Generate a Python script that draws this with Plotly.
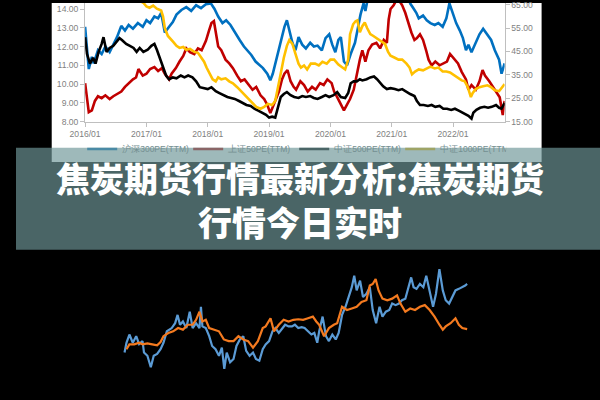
import plotly.graph_objects as go

# ---------------- top chart: PE(TTM) of four indices (decimal year, value) ----------------
year_ticks = [2016, 2017, 2018, 2019, 2020, 2021, 2022]
year_labels = ["2016/01", "2017/01", "2018/01", "2019/01", "2020/01", "2021/01", "2022/01"]
left_ticks = [8, 9, 10, 11, 12, 13, 14]
right_ticks = [15, 25, 35, 45, 55, 65]
series_names = ["沪深300PE(TTM)", "上证50PE(TTM)", "中证500PE(TTM)", "中证1000PE(TTM)"]

hs300 = [(2016.00,13.05),(2016.03,12.0),(2016.06,10.8),(2016.11,11.45),(2016.14,11.1),(2016.21,11.8),
         (2016.27,11.6),(2016.33,12.0),(2016.40,11.7),(2016.46,12.1),(2016.52,12.5),(2016.59,13.1),
         (2016.65,12.85),(2016.71,13.15),(2016.78,12.95),(2016.86,13.25),(2016.94,13.05),(2017.00,13.4),
         (2017.06,13.25),(2017.13,13.6),(2017.19,13.5),(2017.24,13.8),(2017.30,12.75),(2017.37,13.05),
         (2017.43,13.3),(2017.49,13.7),(2017.57,13.95),(2017.65,14.1),(2017.73,13.9),(2017.81,14.2),
         (2017.89,14.05),(2017.97,14.25),(2018.05,14.3),(2018.11,14.0),(2018.17,13.6),(2018.24,13.25),
         (2018.30,13.4),(2018.37,13.15),(2018.44,12.75),(2018.52,12.35),(2018.59,12.0),(2018.65,11.8),
         (2018.71,11.55),(2018.78,11.2),(2018.84,11.0),(2018.90,10.85),(2018.97,10.55),(2019.02,10.2),
         (2019.06,10.55),(2019.11,11.2),(2019.16,12.0),(2019.21,12.5),(2019.25,13.05),(2019.29,13.4),
         (2019.33,12.85),(2019.38,12.2),(2019.43,11.8),(2019.48,12.5),(2019.54,12.1),(2019.60,11.9),
         (2019.67,12.2),(2019.73,12.0),(2019.79,12.05),(2019.86,11.8),(2019.92,12.45),(2019.98,12.65),
         (2020.03,12.1),(2020.08,11.7),(2020.13,12.35),(2020.17,12.5),(2020.22,11.2),(2020.27,11.0),
         (2020.33,11.6),(2020.40,12.2),(2020.44,12.85),(2020.49,13.7),(2020.54,14.3),(2020.57,13.9),
         (2020.60,14.4),(2020.65,15.2),(2020.75,15.6),(2020.90,16.2),(2021.05,16.8),(2021.12,17.2),
         (2021.20,16.0),(2021.30,14.3),(2021.35,14.05),(2021.40,13.8),(2021.44,13.5),(2021.51,13.65),
         (2021.57,13.4),(2021.63,13.25),(2021.70,13.15),(2021.76,13.25),(2021.83,13.05),(2021.89,13.5),
         (2021.94,14.3),(2021.98,13.9),(2022.05,13.25),(2022.11,12.85),(2022.16,12.45),(2022.21,11.8),
         (2022.25,12.1),(2022.30,11.7),(2022.37,12.2),(2022.43,12.65),(2022.49,12.95),(2022.56,12.6),
         (2022.62,12.35),(2022.68,11.8),(2022.75,11.3),(2022.79,10.55),(2022.84,11.1)]

sz50 = [(2016.00,10.05),(2016.03,9.1),(2016.06,8.5),(2016.11,8.6),(2016.16,9.1),(2016.21,9.35),
        (2016.27,9.25),(2016.33,9.4),(2016.40,9.2),(2016.46,9.35),(2016.52,9.45),(2016.59,9.6),
        (2016.65,9.85),(2016.71,10.05),(2016.78,10.25),(2016.83,10.35),(2016.87,10.8),(2016.94,10.45),
        (2017.00,10.55),(2017.06,10.8),(2017.13,10.9),(2017.19,10.7),(2017.25,10.85),(2017.30,10.55),
        (2017.37,10.25),(2017.41,10.55),(2017.48,10.85),(2017.54,11.2),(2017.60,11.5),(2017.65,11.9),
        (2017.71,11.7),(2017.78,11.6),(2017.84,11.9),(2017.90,11.8),(2017.97,12.3),(2018.02,12.85),
        (2018.06,13.25),(2018.10,13.35),(2018.13,12.65),(2018.17,12.0),(2018.22,11.8),(2018.29,11.3),
        (2018.35,11.1),(2018.41,10.85),(2018.48,10.45),(2018.54,10.15),(2018.60,10.25),(2018.67,9.95),
        (2018.73,9.7),(2018.79,9.85),(2018.86,9.4),(2018.92,9.2),(2018.97,8.9),(2019.02,8.45),
        (2019.06,8.8),(2019.11,9.2),(2019.16,9.6),(2019.21,10.25),(2019.25,10.55),(2019.30,10.75),
        (2019.35,10.15),(2019.40,9.85),(2019.44,9.7),(2019.51,10.15),(2019.57,9.95),(2019.63,9.6),
        (2019.70,9.85),(2019.76,9.7),(2019.83,10.05),(2019.89,9.95),(2019.95,10.25),(2020.02,10.05),
        (2020.06,9.6),(2020.11,9.3),(2020.16,9.0),(2020.22,8.6),(2020.27,8.9),(2020.32,9.2),
        (2020.38,9.7),(2020.43,10.55),(2020.48,11.3),(2020.52,11.8),(2020.57,11.2),(2020.62,11.8),
        (2020.68,12.1),(2020.75,12.2),(2020.81,11.9),(2020.87,12.35),(2020.92,12.2),(2020.95,13.45),
        (2020.98,14.0),(2021.03,14.2),(2021.08,14.5),(2021.13,14.4),(2021.17,14.2),(2021.22,13.8),
        (2021.27,13.25),(2021.32,12.75),(2021.37,12.35),(2021.41,12.45),(2021.46,12.65),(2021.51,12.35),
        (2021.56,11.8),(2021.60,11.3),(2021.65,11.0),(2021.71,11.2),(2021.78,11.0),(2021.84,11.1),
        (2021.90,11.2),(2021.95,11.6),(2022.02,11.3),(2022.08,11.1),(2022.14,10.65),(2022.21,10.25),
        (2022.25,9.7),(2022.30,9.95),(2022.37,9.7),(2022.43,10.15),(2022.48,10.75),(2022.52,10.45),
        (2022.59,10.15),(2022.65,9.85),(2022.71,9.5),(2022.76,9.3),(2022.81,8.35),(2022.84,9.1)]

zz500 = [(2016.00,51.1),(2016.03,44.0),(2016.08,39.8),(2016.13,42.3),(2016.17,39.8),(2016.22,44.8),
         (2016.27,48.2),(2016.30,51.1),(2016.35,44.8),(2016.40,46.5),(2016.46,47.4),(2016.51,49.0),
         (2016.56,50.7),(2016.60,49.9),(2016.67,48.2),(2016.73,47.4),(2016.79,46.5),(2016.84,44.8),
         (2016.89,46.5),(2016.95,44.8),(2017.02,45.7),(2017.08,47.4),(2017.13,48.2),(2017.17,45.7),
         (2017.22,42.3),(2017.27,39.0),(2017.32,34.7),(2017.37,33.1),(2017.43,33.9),(2017.49,33.5),
         (2017.56,34.7),(2017.62,33.9),(2017.68,34.7),(2017.75,33.9),(2017.81,32.2),(2017.87,29.7),
         (2017.94,29.3),(2018.00,28.9),(2018.06,29.7),(2018.13,28.0),(2018.19,27.2),(2018.25,26.3),
         (2018.32,25.5),(2018.38,25.1),(2018.44,24.7),(2018.51,23.8),(2018.57,23.0),(2018.63,22.1),
         (2018.70,21.7),(2018.76,20.5),(2018.83,19.6),(2018.89,18.8),(2018.95,17.9),(2019.00,16.7),
         (2019.05,17.1),(2019.10,16.7),(2019.14,20.5),(2019.19,25.5),(2019.24,26.8),(2019.29,27.6),
         (2019.35,26.3),(2019.41,25.5),(2019.48,25.1),(2019.54,25.9),(2019.60,25.5),(2019.67,25.9),
         (2019.73,25.1),(2019.79,24.7),(2019.86,25.5),(2019.92,26.3),(2019.98,25.5),(2020.05,26.3),
         (2020.11,27.6),(2020.17,25.5),(2020.24,25.1),(2020.29,27.2),(2020.33,31.4),(2020.38,32.2),
         (2020.43,32.2),(2020.48,33.1),(2020.52,32.6),(2020.59,33.1),(2020.65,33.9),(2020.71,34.3),
         (2020.76,33.1),(2020.81,31.4),(2020.86,30.1),(2020.92,28.9),(2020.98,29.3),(2021.05,28.9),
         (2021.11,28.4),(2021.17,28.9),(2021.24,27.6),(2021.30,26.8),(2021.37,25.9),(2021.41,23.8),
         (2021.46,22.1),(2021.52,22.1),(2021.59,21.7),(2021.65,22.1),(2021.71,21.3),(2021.78,21.7),
         (2021.84,20.5),(2021.90,20.5),(2021.97,20.0),(2022.03,20.5),(2022.10,19.6),(2022.16,18.8),
         (2022.21,17.9),(2022.25,17.5),(2022.30,16.3),(2022.33,18.8),(2022.38,20.0),(2022.44,20.9),
         (2022.51,21.3),(2022.57,20.9),(2022.63,21.3),(2022.70,22.1),(2022.75,20.9),(2022.79,20.5),
         (2022.84,23.0)]

zz1000 = [(2016.78,70.0),(2016.90,66.5),(2016.95,65.8),(2017.00,64.2),(2017.05,63.7),(2017.11,64.6),
          (2017.17,63.3),(2017.24,62.5),(2017.27,60.0),(2017.30,54.9),(2017.35,51.6),(2017.40,49.9),
          (2017.44,49.0),(2017.49,47.4),(2017.54,46.5),(2017.60,46.9),(2017.65,45.7),(2017.71,46.1),
          (2017.78,44.8),(2017.84,44.4),(2017.89,42.7),(2017.94,40.6),(2017.98,38.1),(2018.03,35.6),
          (2018.08,33.1),(2018.13,32.2),(2018.17,33.9),(2018.22,33.1),(2018.29,33.5),(2018.35,32.2),
          (2018.41,31.4),(2018.48,29.7),(2018.54,28.0),(2018.60,26.3),(2018.67,24.7),(2018.73,23.0),
          (2018.79,21.3),(2018.86,20.5),(2018.92,21.3),(2018.98,22.6),(2019.05,22.1),(2019.10,23.8),
          (2019.14,29.7),(2019.19,35.6),(2019.24,42.3),(2019.29,47.4),(2019.33,49.9),(2019.38,48.2),
          (2019.43,44.0),(2019.48,39.8),(2019.52,38.1),(2019.57,39.0),(2019.62,37.3),(2019.68,39.8),
          (2019.75,39.8),(2019.81,39.0),(2019.87,40.6),(2019.94,39.8),(2020.00,41.5),(2020.06,41.5),
          (2020.13,39.4),(2020.19,38.1),(2020.24,37.3),(2020.29,41.5),(2020.32,52.4),(2020.37,56.6),
          (2020.41,57.9),(2020.44,58.3),(2020.48,53.2),(2020.52,55.8),(2020.56,57.4),(2020.60,54.9),
          (2020.65,52.4),(2020.70,51.6),(2020.75,50.7),(2020.79,49.9),(2020.84,49.0),(2020.89,48.2),
          (2020.94,44.8),(2020.98,43.2),(2021.05,42.3),(2021.11,41.5),(2021.17,41.5),(2021.24,39.8),
          (2021.29,38.1),(2021.33,35.2),(2021.38,36.4),(2021.44,37.3),(2021.51,36.9),(2021.57,37.7),
          (2021.63,38.5),(2021.70,37.7),(2021.76,38.1),(2021.83,36.4),(2021.89,36.4),(2021.95,36.0),
          (2022.02,34.7),(2022.08,33.5),(2022.14,32.6),(2022.19,32.2),(2022.24,29.7),(2022.29,25.5),
          (2022.32,27.2),(2022.37,28.9),(2022.43,29.7),(2022.49,30.1),(2022.56,30.5),(2022.62,29.7),
          (2022.68,28.4),(2022.75,28.0),(2022.79,29.3),(2022.84,31.0)]

# ---------------- bottom chart: two price series (decimal year, price) ----------------
coke_blue = [(2015.01,1033),(2015.05,1133),(2015.11,1217),(2015.18,1133),(2015.25,1200),(2015.31,1120),
             (2015.38,1150),(2015.41,1033),(2015.48,1000),(2015.55,883),(2015.61,1000),(2015.68,1020),
             (2015.75,1067),(2015.81,1133),(2015.88,1250),(2015.98,1283),(2016.05,1333),(2016.10,1417),
             (2016.15,1317),(2016.21,1350),(2016.28,1283),(2016.35,1450),(2016.41,1283),(2016.48,1333),
             (2016.55,1283),(2016.58,1500),(2016.61,1300),(2016.68,1283),(2016.75,1200),(2016.81,1100),
             (2016.88,1067),(2016.95,1000),(2017.01,1083),(2017.06,867),(2017.11,1033),(2017.18,933),
             (2017.25,967),(2017.31,1100),(2017.38,1167),(2017.45,1200),(2017.51,1050),(2017.58,1000),
             (2017.65,1033),(2017.71,967),(2017.78,950),(2017.85,1067),(2017.91,1117),(2017.98,1150),
             (2018.05,1250),(2018.11,1283),(2018.18,1233),(2018.25,1283),(2018.31,1317),(2018.38,1300),
             (2018.45,1300),(2018.51,1317),(2018.58,1283),(2018.65,1293),(2018.71,1283),(2018.78,1250),
             (2018.85,1217),(2018.91,1233),(2018.97,1133),(2019.01,1250),(2019.08,1400),(2019.15,1200),
             (2019.21,1150),(2019.28,1217),(2019.35,1167),(2019.41,1233),(2019.48,1417),(2019.55,1500),
             (2019.61,1600),(2019.68,1700),(2019.73,1817),(2019.78,1667),(2019.85,1767),(2019.91,1600),
             (2019.98,1633),(2020.05,1700),(2020.11,1467),(2020.18,1333),(2020.25,1500),(2020.31,1400),
             (2020.38,1450),(2020.45,1467),(2020.51,1533),(2020.58,1517),(2020.65,1533),(2020.71,1567),
             (2020.78,1583),(2020.85,1700),(2020.90,1800),(2020.95,1700),(2021.01,1683),(2021.08,1733),
             (2021.15,1700),(2021.21,1817),(2021.28,1667),(2021.35,1500),(2021.41,1633),(2021.48,1883),
             (2021.55,1667),(2021.61,1567),(2021.68,1533),(2021.75,1600),(2021.81,1667),(2021.88,1683),
             (2021.95,1700),(2022.01,1717),(2022.05,1733)]

coke_orange = [(2015.05,1067),(2015.11,1117),(2015.21,1117),(2015.31,1133),(2015.38,1117),(2015.48,1127),
               (2015.58,1117),(2015.68,1107),(2015.75,1140),(2015.81,1200),(2015.91,1233),(2016.01,1250),
               (2016.11,1283),(2016.21,1267),(2016.31,1317),(2016.41,1317),(2016.48,1367),(2016.55,1450),
               (2016.61,1350),(2016.68,1367),(2016.75,1283),(2016.85,1267),(2016.95,1250),(2017.05,1167),
               (2017.15,1150),(2017.25,1150),(2017.35,1200),(2017.45,1167),(2017.55,1150),(2017.65,1083),
               (2017.75,1150),(2017.85,1283),(2017.91,1300),(2018.01,1383),(2018.08,1250),(2018.18,1317),
               (2018.28,1367),(2018.38,1350),(2018.48,1367),(2018.58,1373),(2018.68,1367),(2018.78,1383),
               (2018.88,1400),(2018.95,1350),(2019.01,1317),(2019.11,1200),(2019.21,1283),(2019.31,1317),
               (2019.38,1333),(2019.48,1500),(2019.58,1467),(2019.68,1483),(2019.78,1500),(2019.88,1550),
               (2019.98,1567),(2020.05,1717),(2020.11,1733),(2020.17,1783),(2020.23,1667),(2020.31,1583),
               (2020.41,1567),(2020.51,1583),(2020.61,1617),(2020.68,1533),(2020.78,1450),(2020.88,1483),
               (2020.98,1467),(2021.08,1500),(2021.18,1517),(2021.28,1467),(2021.38,1400),(2021.48,1317),
               (2021.55,1267),(2021.61,1300),(2021.71,1333),(2021.81,1383),(2021.88,1317),(2021.95,1283),
               (2022.05,1273)]

title_line1 = "焦炭期货行情最新分析:焦炭期货"
title_line2 = "行情今日实时"


def unzip(pairs):
    return [p[0] for p in pairs], [p[1] for p in pairs]


fig = go.Figure()

top_colors = ["#0070C0", "#C00000", "#000000", "#FFC000"]
top_series = [hs300, sz50, zz500, zz1000]
top_axes = ["y", "y", "y2", "y2"]
for name, data, color, ax in zip(series_names, top_series, top_colors, top_axes):
    xs, ys = unzip(data)
    fig.add_trace(go.Scatter(x=xs, y=ys, mode="lines", name=name, xaxis="x", yaxis=ax,
                             line=dict(color=color, width=2.6), showlegend=False, hoverinfo="skip"))

# legend entries (seen through the translucent banner)
legend_colors = ["#4a8aa5", "#8a6566", "#4a6566", "#9ea466"]
for name, color in zip(series_names, legend_colors):
    fig.add_trace(go.Scatter(x=[None], y=[None], mode="lines", name=name, xaxis="x", yaxis="y",
                             line=dict(color=color, width=2.6), showlegend=True))

bx, by = unzip(coke_blue)
fig.add_trace(go.Scatter(x=bx, y=by, mode="lines", xaxis="x2", yaxis="y3",
                         line=dict(color="#5B9BD5", width=2.2), showlegend=False, hoverinfo="skip"))
ox, oy = unzip(coke_orange)
fig.add_trace(go.Scatter(x=ox, y=oy, mode="lines", xaxis="x2", yaxis="y3",
                         line=dict(color="#F47A1F", width=2.2), showlegend=False, hoverinfo="skip"))

tick_font = dict(family="Liberation Sans, Arial, sans-serif", size=8.6, color="#7f7f7f")
axis_common = dict(showgrid=False, zeroline=False, showline=True, linecolor="#bfbfbf", linewidth=1,
                   ticks="outside", ticklen=4, tickcolor="#bfbfbf", tickfont=tick_font,
                   ticklabeloverflow="allow")

fig.update_layout(
    width=600, height=400,
    margin=dict(l=0, r=0, t=0, b=0),
    paper_bgcolor="#000000",
    plot_bgcolor="rgba(0,0,0,0)",
    xaxis=dict(domain=[71/600, 502/600], range=[2016.0, 2022.84], tickvals=year_ticks,
               ticktext=year_labels, anchor="y", **axis_common),
    yaxis=dict(domain=[1-121/400, 1.0], range=[8, 14.32], tickvals=left_ticks, tickformat=".2f",
               anchor="x", **axis_common),
    yaxis2=dict(overlaying="y", side="right", anchor="x", range=[15, 65.71], tickvals=right_ticks,
                tickformat=".2f", **axis_common),
    xaxis2=dict(domain=[100/600, 480/600], range=[2014.78, 2022.38], anchor="y3", visible=False),
    yaxis3=dict(domain=[10/400, 140/400], range=[700, 2000], anchor="x2", visible=False),
    legend=dict(orientation="h", x=68/600, xanchor="left", y=1-149/400, yanchor="middle",
                bgcolor="rgba(0,0,0,0)", font=dict(family="Liberation Sans, Arial, sans-serif",
                                                   size=8.5, color="#748f91"),
                entrywidth=61, entrywidthmode="pixels", itemwidth=30, tracegroupgap=0),
    shapes=[
        dict(type="rect", xref="paper", yref="paper", x0=36.7/600, x1=540/600, y0=1-162.3/400, y1=1.0,
             fillcolor="#ffffff", line=dict(width=0), layer="below"),
        dict(type="rect", xref="paper", yref="paper", x0=0, x1=1, y0=1-251.7/400, y1=1-147.7/400,
             fillcolor="rgba(110,150,152,0.67)", line=dict(width=0), layer="above"),
    ],
    annotations=[
        dict(text=title_line1 + "<br>" + title_line2, xref="paper", yref="paper", x=292/600,
             y=1-201/400, xanchor="center", yanchor="middle", showarrow=False, align="center",
             font=dict(family="Noto Sans CJK SC", size=34, color="#ffffff", weight=900)),
    ],
)

fig.write_html("out.html", config={"displayModeBar": False},
               post_script="document.body.style.margin='0';document.body.style.background='#000';")
